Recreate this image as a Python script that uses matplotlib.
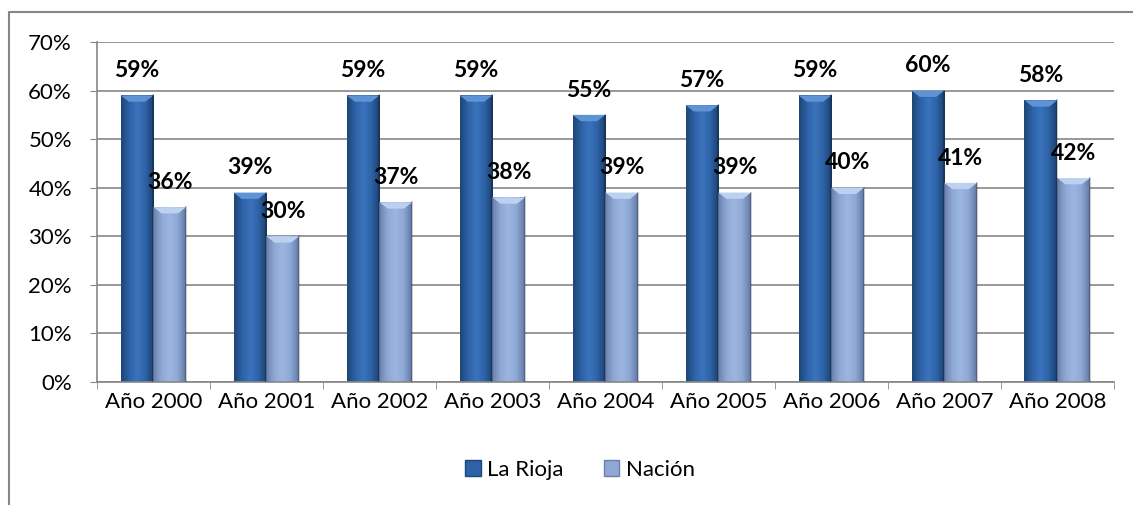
import matplotlib.pyplot as plt
import numpy as np
from matplotlib.colors import LinearSegmentedColormap
from matplotlib.lines import Line2D
from matplotlib.patches import Rectangle

plt.rcParams['font.family'] = ['Lato', 'DejaVu Sans']

years = ["Año 2000", "Año 2001", "Año 2002", "Año 2003", "Año 2004",
         "Año 2005", "Año 2006", "Año 2007", "Año 2008"]
rioja = [59, 39, 59, 59, 55, 57, 59, 60, 58]
nacion = [36, 30, 37, 38, 39, 39, 40, 41, 42]
series_names = ["La Rioja", "Nación"]

# horizontal shading for each series: edge -> middle -> edge
cmap_rioja = LinearSegmentedColormap.from_list(
    "rioja", ["#1f4677", "#2d62a6", "#3a73bd", "#2d62a6", "#1c4170"])
cmap_nacion = LinearSegmentedColormap.from_list(
    "nacion", ["#6a80ab", "#8ea8d6", "#9db6e0", "#8ea8d6", "#627aa6"])

fig = plt.figure(figsize=(11.33, 5.05), dpi=100)
ax = fig.add_axes([0.0856, 0.2436, 0.8974, 0.6732])

x = np.arange(len(years))
w = 0.29
grad = np.linspace(0, 1, 64).reshape(1, -1)


def draw_bars(xs, vals, cmap, top_col):
    for xc, v in zip(xs, vals):
        x0, x1 = xc - w / 2, xc + w / 2
        rect = Rectangle((x0, 0), w, v, facecolor="none", edgecolor="none")
        ax.add_patch(rect)
        im = ax.imshow(grad, cmap=cmap, aspect="auto",
                       extent=(x0, x1, 0, v), zorder=2)
        im.set_clip_path(rect)
        # small bevel on top
        bev = 1.3
        ax.fill([x0, x1, x1 - w * 0.25, x0 + w * 0.25], [v, v, v - bev, v - bev],
                color=top_col, zorder=3, lw=0)
        ax.plot([x1, x1], [0, v], color="#00000030", lw=1.5, zorder=3)


draw_bars(x - w / 2, rioja, cmap_rioja, "#5f93d6")
draw_bars(x + w / 2, nacion, cmap_nacion, "#bcd0ef")

for xi, v in zip(x - w / 2, rioja):
    ax.text(xi, v + 5.1, f"{v}%", ha="center", va="center",
            fontsize=16.5, fontweight="bold")
for xi, v in zip(x + w / 2, nacion):
    ax.text(xi, v + 5.1, f"{v}%", ha="center", va="center",
            fontsize=16.5, fontweight="bold")

ax.set_xlim(-0.5, len(years) - 0.5)
ax.set_ylim(0, 70)
ax.set_yticks(range(0, 71, 10))
ax.set_yticklabels([f"{t}%" for t in range(0, 71, 10)], fontsize=16)
ax.set_xticks(x)
ax.set_xticklabels(years, fontsize=16)
ax.set_xticks(np.arange(-0.5, len(years)), minor=True)
ax.tick_params(axis="x", which="major", length=0, pad=7)
ax.tick_params(axis="x", which="minor", length=5, color="#868686")
ax.tick_params(axis="y", length=5, color="#868686", pad=13)
ax.yaxis.grid(True, color="#868686", lw=1.2)
ax.set_axisbelow(True)
for s in ["top", "right"]:
    ax.spines[s].set_visible(False)
for s in ["left", "bottom"]:
    ax.spines[s].set_color("#868686")
    ax.spines[s].set_linewidth(1.2)

handles = [Rectangle((0, 0), 1, 1, facecolor="#2d62a6", edgecolor="#1f4677"),
           Rectangle((0, 0), 1, 1, facecolor="#8ea8d6", edgecolor="#6a80ab")]
fig.legend(handles, series_names, loc="center", bbox_to_anchor=(0.512, 0.07),
           ncol=2, frameon=False, fontsize=16, handlelength=0.7,
           handleheight=0.7, handletextpad=0.3, columnspacing=1.8)

# outer chart frame
fig.add_artist(Line2D([9 / 1133, 9 / 1133, 1.0], [0.0, 1 - 12 / 505, 1 - 12 / 505],
                      transform=fig.transFigure, color="#868686", lw=1.5))

fig.savefig("out.png", dpi=100)
